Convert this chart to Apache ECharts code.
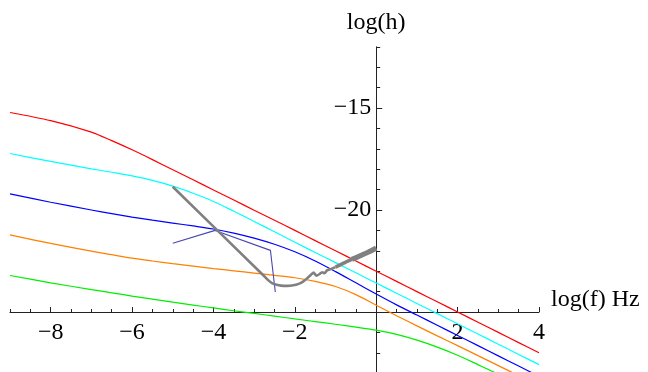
<!DOCTYPE html>
<html>
<head>
<meta charset="utf-8">
<script src="https://cdn.jsdelivr.net/npm/echarts@6/dist/echarts.min.js"></script>
<style>html,body{margin:0;padding:0;background:#fff}#c{width:648px;height:372px}</style>
</head>
<body>
<div id="c"></div>
<script>
// shared log(f) grid for the five noise curves
const xGrid = [-9,-8,-7,-6.5,-6,-5.5,-5,-4.5,-4,-3.5,-3,-2.5,-2,-1.5,-1,-0.5,0,0.5,1,1.5,2,2.5,3,3.5,4];
const redY = [-15.22,-15.62,-16.18,-16.6,-17.05,-17.53,-18.03,-18.52,-19.02,-19.51,-20.01,-20.5,-21.0,-21.5,-22.0,-22.5,-23.0,-23.5,-24.0,-24.5,-25.0,-25.5,-26.0,-26.5,-27.0];
const cyanY = [-17.23,-17.62,-17.98,-18.15,-18.33,-18.55,-18.83,-19.18,-19.58,-20.06,-20.56,-21.07,-21.58,-22.08,-22.58,-23.08,-23.58,-24.08,-24.58,-25.08,-25.58,-26.08,-26.58,-27.08,-27.58];
const blueY = [-19.21,-19.62,-20.0,-20.18,-20.35,-20.5,-20.64,-20.78,-20.93,-21.13,-21.38,-21.68,-22.05,-22.5,-23.02,-23.57,-24.12,-24.65,-25.15,-25.65,-26.15,-26.65,-27.15,-27.65,-28.15];
const orangeY = [-21.22,-21.64,-22.02,-22.19,-22.36,-22.5,-22.63,-22.75,-22.87,-22.98,-23.09,-23.2,-23.32,-23.5,-23.75,-24.15,-24.67,-25.18,-25.68,-26.17,-26.65,-27.14,-27.63,-28.12,-28.6];
const greenY = [-23.21,-23.57,-23.9,-24.06,-24.22,-24.37,-24.52,-24.66,-24.8,-24.94,-25.07,-25.2,-25.34,-25.47,-25.6,-25.74,-25.89,-26.1,-26.38,-26.72,-27.12,-27.58,-28.05,-28.55,-29.05];
// gray measured curve
const grayX = [-5.0,-2.77,-2.65,-2.55,-2.42,-2.28,-2.12,-1.97,-1.85,-1.74,-1.63,-1.54,-1.47,-1.4,-1.33,-1.27,-1.21,-1.12,-1.0];
const grayY = [-18.86,-23.21,-23.45,-23.6,-23.68,-23.72,-23.71,-23.66,-23.57,-23.42,-23.22,-23.07,-23.22,-23.15,-23.05,-23.1,-22.96,-22.9,-22.8];
const grayBandAX = [-1.0,-0.8,-0.6];
const grayBandAY = [-22.8,-22.6,-22.42];
const grayBandBX = [-0.6,-0.4,-0.2,0.0];
const grayBandBY = [-22.42,-22.25,-22.07,-21.87];
// thin slate-blue polyline
const slateX = [-5.0,-3.96,-2.6,-2.48];
const slateY = [-21.63,-21.0,-21.98,-24.02];
// ticks
const xMajor = [-8,-6,-4,-2,2,4];
const yMajor = [-15,-20];

const pair = (xs, ys) => xs.map((x, i) => [x, ys[i]]);
const fmt = v => (v < 0 ? '\u2212' + Math.abs(v) : String(v));
const font = 'Liberation Serif';
const axisCol = '#222';
const GRID = {left: 10, top: 46.8, width: 529, height: 326.4, containLabel: false, outerBoundsMode: 'none'};
const xOff = -61.2;   // puts the f axis at log(h) = -25
const yOff = -366.2;  // puts the h axis at log(f) = 0

function curve(xs, ys, color, w, smooth) {
  return {type: 'line', data: pair(xs, ys), showSymbol: false, symbol: 'none', smooth: smooth,
    lineStyle: {color: color, width: w}, itemStyle: {color: color}, z: 3, silent: true};
}

const chart = echarts.init(document.getElementById('c'), null, {renderer: 'canvas'});
chart.setOption({
  animation: false,
  backgroundColor: '#fff',
  grid: GRID,
  xAxis: [
    {type: 'value', min: -9, max: 4, position: 'bottom', offset: xOff,
      axisLine: {onZero: false, lineStyle: {color: axisCol, width: 1}},
      axisTick: {inside: true, length: 5, customValues: xMajor, lineStyle: {color: axisCol}},
      axisLabel: {customValues: xMajor, formatter: fmt, margin: 9, fontFamily: font, fontSize: 24, color: '#000'},
      splitLine: {show: false},
      name: 'log(f) Hz', nameLocation: 'end', nameGap: 12,
      nameTextStyle: {fontFamily: font, fontSize: 24, color: '#000', verticalAlign: 'bottom'}},
    {type: 'value', min: -9, max: 4, interval: 0.5, position: 'bottom', offset: xOff,
      axisLine: {show: false, onZero: false},
      axisTick: {inside: true, length: 3, lineStyle: {color: axisCol}},
      axisLabel: {show: false}, splitLine: {show: false}}
  ],
  yAxis: [
    {type: 'value', min: -28, max: -12, position: 'left', offset: yOff,
      axisLine: {onZero: false, lineStyle: {color: axisCol, width: 1}},
      axisTick: {inside: true, length: 6, customValues: yMajor, lineStyle: {color: axisCol}},
      axisLabel: {customValues: yMajor, formatter: fmt, margin: 5, fontFamily: font, fontSize: 24, color: '#000'},
      splitLine: {show: false},
      name: 'log(h)', nameLocation: 'end', nameGap: 12,
      nameTextStyle: {fontFamily: font, fontSize: 24, color: '#000'}},
    {type: 'value', min: -28, max: -12, interval: 1, position: 'left', offset: yOff,
      axisLine: {show: false, onZero: false},
      axisTick: {inside: true, length: 4, lineStyle: {color: axisCol}},
      axisLabel: {show: false}, splitLine: {show: false}}
  ],
  series: [
    curve(xGrid, redY, '#ff0000', 1.2, 0.3),
    curve(xGrid, cyanY, '#00ffff', 1.2, 0.3),
    curve(xGrid, blueY, '#0000ff', 1.2, 0.3),
    curve(xGrid, orangeY, '#ff7f00', 1.2, 0.3),
    curve(xGrid, greenY, '#00ee00', 1.2, 0.3),
    curve(slateX, slateY, '#4848b0', 1.1, false),
    curve(grayX, grayY, '#808080', 2.6, 0.2),
    curve(grayBandAX, grayBandAY, '#808080', 3.6, 0.2),
    curve(grayBandBX, grayBandBY, '#808080', 5.2, 0.2)
  ]
});
</script>
</body>
</html>
